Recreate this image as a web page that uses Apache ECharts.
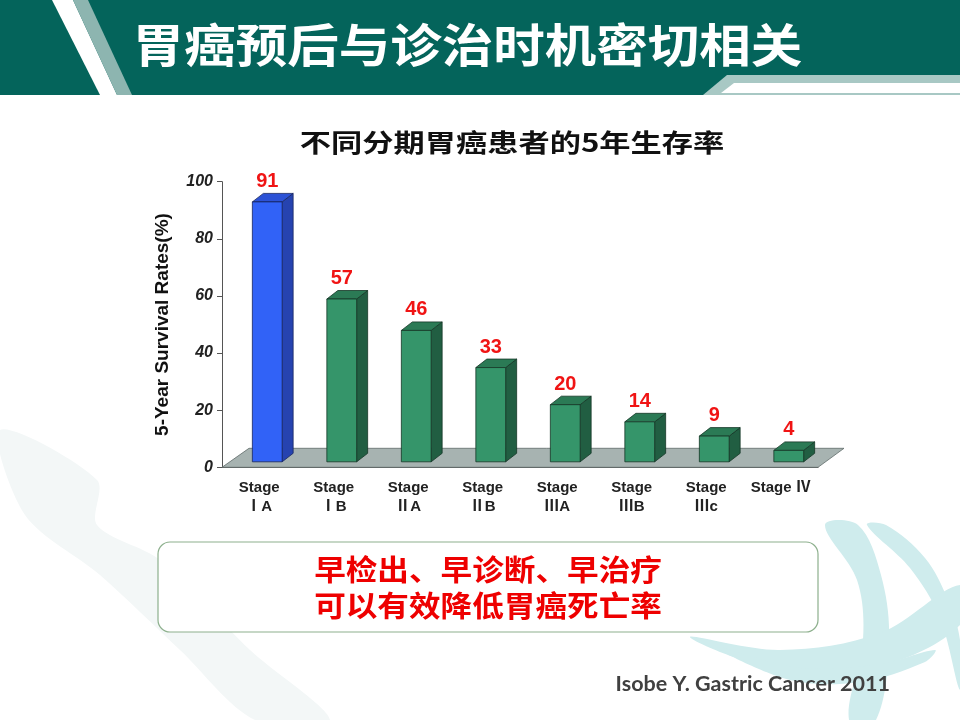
<!DOCTYPE html>
<html><head><meta charset="utf-8">
<script src="https://cdn.jsdelivr.net/npm/echarts@6/dist/echarts.min.js"></script>
<style>html,body{margin:0;padding:0;background:#fff}#c{width:960px;height:720px}</style>
</head><body><div id="c"></div>
<script>
// ---- data ----
const categories = ['Stage\nⅠA', 'Stage\nⅠB', 'Stage\nⅡA', 'Stage\nⅡB', 'Stage\nⅢA', 'Stage\nⅢB', 'Stage\nⅢc', 'Stage Ⅳ'];
const survivalRates = [91, 57, 46, 33, 20, 14, 9, 4];
const yMin = 0, yMax = 100, yInterval = 20;
const slideTitle = '胃癌预后与诊治时机密切相关';
const chartTitle = '不同分期胃癌患者的5年生存率';
const yAxisName = '5-Year Survival Rates(%)';
const messageLines = ['早检出、早诊断、早治疗', '可以有效降低胃癌死亡率'];
const citation = 'Isobe Y. Gastric Cancer 2011';

// ---- styles ----
const BLUE = {front: '#3162f7', side: '#2643b0', top: '#2c52d6', edge: '#16245e'};
const GREEN = {front: '#35956a', side: '#215e42', top: '#2b7a55', edge: '#143626'};
const DX = 11, DY = -8.5, LIFT = 5.5, SHIFT = 8;
const CJK = '"Noto Sans CJK SC", "Noto Sans", sans-serif';
const LAT = '"Liberation Sans", Arial, "Noto Sans CJK SC", sans-serif';

function renderBar(params, api) {
  const i = api.value(0), v = api.value(1);
  const p0 = api.coord([i, 0]), p1 = api.coord([i, v]);
  const band = api.size([1, 0])[0];
  const w = band * 0.4;
  const cx = p0[0] + SHIFT;
  const x0 = cx - w / 2, x1 = cx + w / 2;
  const yb = p0[1] - LIFT, yt = p1[1] - LIFT;
  const pal = i === 0 ? BLUE : GREEN;
  return {type: 'group', children: [
    {type: 'polygon', shape: {points: [[x1, yb], [x1 + DX, yb + DY], [x1 + DX, yt + DY], [x1, yt]]},
     style: {fill: pal.side, stroke: pal.edge, lineWidth: 0.8}},
    {type: 'polygon', shape: {points: [[x0, yt], [x1, yt], [x1 + DX, yt + DY], [x0 + DX, yt + DY]]},
     style: {fill: pal.top, stroke: pal.edge, lineWidth: 0.8}},
    {type: 'rect', shape: {x: x0, y: yt, width: w, height: yb - yt},
     style: {fill: pal.front, stroke: pal.edge, lineWidth: 0.8}},
    {type: 'text', x: cx, y: yt + DY - 2,
     style: {text: String(v), align: 'center', verticalAlign: 'bottom',
             fill: '#f01414', font: 'bold 20px ' + LAT}}
  ]};
}

function renderFloor(params, api) {
  const n = api.value(0);
  const band = api.size([1, 0])[0];
  const a = api.coord([0, 0]), b = api.coord([n - 1, 0]);
  const xl = a[0] - band / 2, xr = b[0] + band / 2, y0 = a[1];
  return {type: 'polygon', shape: {points: [[xl, y0], [xr, y0], [xr + 26, y0 - 19], [xl + 27, y0 - 19]]},
          style: {fill: '#a7b3b1', stroke: '#5f6b69', lineWidth: 0.8}};
}

const SW = '#cfeced';
const bg = [
  // background swirls
  {type: 'polygon', z: -20, shape: {smooth: 0.3, points: [[0, 430], [97, 480], [97, 525], [160, 560], [250, 650], [330, 720], [255, 720], [180, 650], [100, 575], [25, 515]]}, style: {fill: '#f3f7f7'}},
  {type: 'polygon', z: -20, shape: {smooth: 0.35, points: [[825, 525], [858, 525], [881, 575], [889, 640], [876, 720], [849, 720], [863, 640], [857, 580]]}, style: {fill: SW}},
  {type: 'polygon', z: -20, shape: {smooth: 0.35, points: [[867, 525], [886, 525], [925, 558], [948, 600], [960, 640], [960, 690], [940, 618], [910, 568]]}, style: {fill: SW}},
  {type: 'polygon', z: -20, shape: {smooth: 0.35, points: [[690, 637], [780, 650], [880, 633], [960, 585], [960, 625], [880, 666], [780, 670]]}, style: {fill: SW}},
  {type: 'polygon', z: -20, shape: {smooth: 0.35, points: [[717, 647], [800, 668], [880, 664], [935, 650], [925, 662], [860, 682], [790, 680]]}, style: {fill: SW}},
  // header
  {type: 'rect', z: -5, shape: {x: 0, y: 0, width: 960, height: 95}, style: {fill: '#04645b'}},
  {type: 'polygon', z: -4, shape: {points: [[52, 0], [73, 0], [117, 95], [100, 95]]}, style: {fill: '#ffffff'}},
  {type: 'polygon', z: -4, shape: {points: [[73, 0], [88, 0], [132, 95], [117, 95]]}, style: {fill: '#8db5b0'}},
  {type: 'polygon', z: -4, shape: {points: [[703, 95], [727, 75], [960, 75], [960, 95]]}, style: {fill: '#a8c8c4'}},
  {type: 'polygon', z: -3, shape: {points: [[721, 93], [734, 83], [960, 83], [960, 93]]}, style: {fill: '#ffffff'}},
  {type: 'text', z: 10, x: 467.5, y: 45, scaleX: 1.12,
   style: {text: slideTitle, align: 'center', verticalAlign: 'middle', fill: '#ffffff', font: 'bold 46px ' + CJK}},
  // chart title
  {type: 'text', z: 10, x: 512, y: 142, scaleX: 1.25,
   style: {text: chartTitle, align: 'center', verticalAlign: 'middle', fill: '#111111', font: 'bold 25px ' + CJK}},
  // message box
  {type: 'rect', z: 5, shape: {x: 158, y: 542, width: 660, height: 90, r: 12},
   style: {fill: '#ffffff', stroke: '#8db08d', lineWidth: 1.2}},
  {type: 'text', z: 10, x: 488, y: 570, scaleX: 1.09,
   style: {text: messageLines[0], align: 'center', verticalAlign: 'middle', fill: '#ee0000', font: 'bold 29px ' + CJK}},
  {type: 'text', z: 10, x: 488, y: 606, scaleX: 1.09,
   style: {text: messageLines[1], align: 'center', verticalAlign: 'middle', fill: '#ee0000', font: 'bold 29px ' + CJK}},
  // citation
  {type: 'text', z: 10, x: 890, y: 684,
   style: {text: citation, align: 'right', verticalAlign: 'middle', fill: '#404040', font: 'bold 21.5px Lato, "Open Sans", sans-serif'}}
];

const chart = echarts.init(document.getElementById('c'), null, {renderer: 'canvas'});
chart.setOption({
  backgroundColor: '#ffffff',
  animation: false,
  graphic: bg,
  grid: {left: 222, right: 142, top: 181.7, bottom: 252.7, containLabel: false},
  xAxis: {
    type: 'category', data: categories,
    axisLine: {lineStyle: {color: '#555555', width: 1}},
    axisTick: {length: 5, lineStyle: {color: '#555555'}},
    axisLabel: {margin: 11, color: '#222222', fontWeight: 'bold', fontSize: 15, lineHeight: 19, fontFamily: LAT, interval: 0},
    splitLine: {show: false}
  },
  yAxis: {
    type: 'value', min: yMin, max: yMax, interval: yInterval,
    name: yAxisName, nameLocation: 'middle', nameGap: 50, nameRotate: 90,
    nameTextStyle: {fontWeight: 'bold', fontSize: 19, color: '#111111', fontFamily: LAT},
    axisLine: {show: true, lineStyle: {color: '#555555', width: 1}},
    axisTick: {show: true, length: 5, lineStyle: {color: '#555555'}},
    axisLabel: {margin: 9, color: '#222222', fontWeight: 'bold', fontStyle: 'italic', fontSize: 16, fontFamily: LAT},
    splitLine: {show: false}
  },
  series: [
    {type: 'custom', name: 'floor', z: 1, renderItem: renderFloor, data: [[categories.length]], silent: true},
    {type: 'custom', name: '5-Year Survival Rates', z: 3, renderItem: renderBar,
     data: survivalRates.map((v, i) => [i, v]), encode: {x: 0, y: 1}}
  ]
});
</script></body></html>
